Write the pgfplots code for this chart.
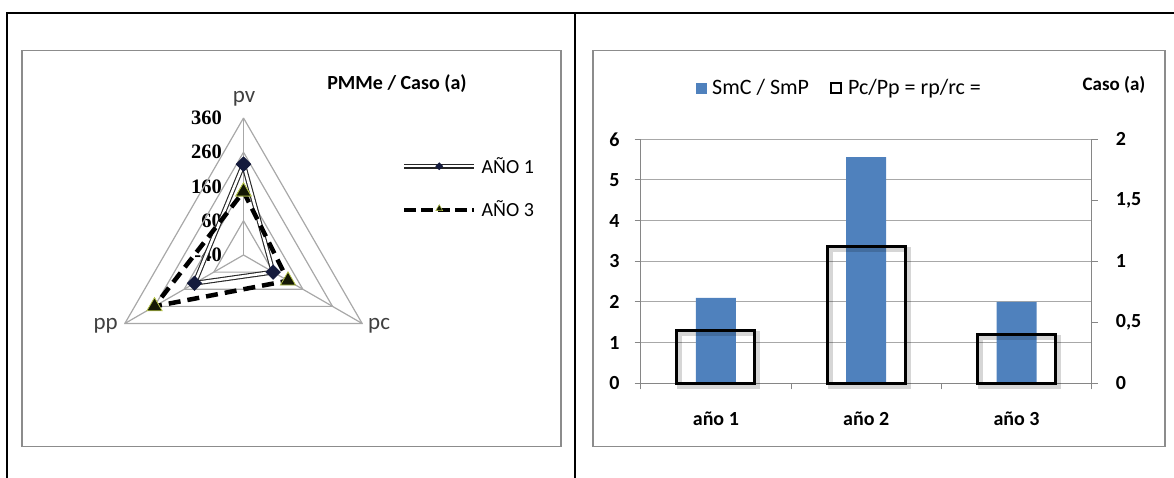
\documentclass[border=0pt]{standalone}
\usepackage{fontspec}
\setmainfont{Carlito}
\newfontfamily\serifnum{Liberation Serif}
\usepackage{pgfplots}
\pgfplotsset{compat=1.18}
\usepackage{pgfplotstable}

\definecolor{gridc}{HTML}{A8A8A8}
\definecolor{axc}{HTML}{868686}
\definecolor{boxc}{HTML}{8C8C8C}
\definecolor{barblue}{HTML}{4F81BD}
\definecolor{navy}{HTML}{141A3C}
\definecolor{trifill}{HTML}{141805}
\definecolor{triedge}{HTML}{B5C34A}
\definecolor{labc}{HTML}{404040}

% radar data: angle, AÑO 1, AÑO 3 (order pv, pc, pp, pv)
\pgfplotstableread{
ang v1 v3
90 225 145
-30 60 110
210 125 260
90 225 145
}\radar

\pgfplotstableread{
x smc pc
0 2.10 0.43
1 5.56 1.12
2 2.00 0.40
}\bars

\begin{document}
\begin{tikzpicture}[x=1bp,y=1bp]
\path[use as bounding box] (0,0) rectangle (1174,478);
% table frame
\draw[line width=2.5bp] (7,0) -- (7,465) -- (1174,465);
\draw[line width=2.5bp] (575,0) -- (575,465);
% chart boxes
\draw[boxc, line width=1.5bp] (22,31.5) rectangle (561,427.5);
\draw[boxc, line width=1.5bp] (593,31.5) rectangle (1165,427.5);

% ---------- radar chart labels ----------
\node[font=\bfseries\fontsize{20bp}{24bp}\selectfont] at (397,394) {PMMe / Caso (a)};
\node[labc, anchor=base, inner sep=0pt, font=\fontsize{23bp}{26bp}\selectfont] at (244,375) {pv};
\node[labc, anchor=base east, inner sep=0pt, font=\fontsize{23bp}{26bp}\selectfont] at (118,148) {pp};
\node[labc, anchor=base west, inner sep=0pt, font=\fontsize{23bp}{26bp}\selectfont] at (368,148) {pc};
\begin{scope}[every node/.style={anchor=east, inner sep=0pt, font=\serifnum\bfseries\fontsize{20.5bp}{24bp}\selectfont}]
\node at (222,360) {360};
\node at (222,325.75) {260};
\node at (222,291.5) {160};
\node at (222,257.25) {60};
\node at (222,223) {-40};
\end{scope}

\begin{axis}[at={(243.5bp,223bp)}, anchor=center,
  x=0.3425bp, y=0.3425bp,
  xmin=-420, xmax=420, ymin=-420, ymax=420,
  hide axis, clip=false,
  legend style={at={(axis description cs:1.05,0.733)}, anchor=west,
    draw=none, fill=none, inner sep=0pt, row sep=24bp,
    font=\fontsize{20bp}{24bp}\selectfont,
    nodes={inner sep=1bp},
    /tikz/every odd column/.append style={column sep=4bp}},
  legend cell align=left]
% grid
\pgfplotsinvokeforeach{60,160,260,360}{
  \addplot[gridc, line width=1.2bp, forget plot]
    table[x expr={(#1+40)*cos(\thisrow{ang})}, y expr={(#1+40)*sin(\thisrow{ang})}] {\radar};
}
\addplot[gridc, line width=1.2bp, forget plot] coordinates {(0,0) (0,400)};
\addplot[gridc, line width=1.2bp, forget plot] coordinates {(0,0) (346.41,-200)};
\addplot[gridc, line width=1.2bp, forget plot] coordinates {(0,0) (-346.41,-200)};
% AÑO 1
\addplot[black!85, line width=1.1bp, double=white, double distance=2.6bp, line join=round, forget plot]
  table[x expr={(\thisrow{v1}+40)*cos(\thisrow{ang})}, y expr={(\thisrow{v1}+40)*sin(\thisrow{ang})}] {\radar};
\addplot[only marks, mark=square*, mark size=5.2bp, mark options={rotate=45, draw=navy, fill=navy}, forget plot]
  table[x expr={(\thisrow{v1}+40)*cos(\thisrow{ang})}, y expr={(\thisrow{v1}+40)*sin(\thisrow{ang})}] {\radar};
% AÑO 3
\addplot[black, line width=4.5bp, dash pattern=on 12bp off 7bp, forget plot]
  table[x expr={(\thisrow{v3}+40)*cos(\thisrow{ang})}, y expr={(\thisrow{v3}+40)*sin(\thisrow{ang})}] {\radar};
\addplot[only marks, mark=triangle*, mark size=8.8bp, mark options={solid, draw=triedge, line width=0.8bp, fill=trifill}, forget plot]
  table[x expr={(\thisrow{v3}+40)*cos(\thisrow{ang})}, y expr={(\thisrow{v3}+40)*sin(\thisrow{ang})}] {\radar};
% legend
\addlegendimage{legend image code/.code={
  \draw[black!85, line width=1.1bp, double=white, double distance=2.4bp] (0bp,0bp) -- (70bp,0bp);
  \draw[draw=navy, fill=navy] plot[only marks, mark=square*, mark size=2.6bp, mark options={rotate=45}] coordinates {(35bp,0bp)};
}}
\addlegendentry{AÑO 1}
\addlegendimage{legend image code/.code={
  \draw[black, line width=4bp, dash pattern=on 12bp off 5bp] (0bp,0bp) -- (70bp,0bp);
  \draw[draw=triedge, fill=trifill, line width=0.5bp] plot[only marks, mark=triangle*, mark size=4bp] coordinates {(35bp,1bp)};
}}
\addlegendentry{AÑO 3}
\end{axis}

% ---------- bar chart ----------
\node[font=\bfseries\fontsize{19bp}{22bp}\selectfont] at (1114,393) {Caso (a)};

\begin{axis}[at={(640.7bp,94.7bp)}, anchor=south west, scale only axis,
  width=451bp, height=244bp,
  xmin=-0.5, xmax=2.5, ymin=0, ymax=6,
  ytick={0,1,2,3,4,5,6}, yticklabels={0,1,2,3,4,5,6},
  xtick={0,1,2}, xticklabels={año 1,año 2,año 3},
  minor xtick={-0.5,0.5,1.5,2.5},
  axis x line*=bottom, axis y line*=left,
  axis line style={axc, line width=1bp},
  tick style={axc, line width=1bp},
  major x tick style={draw=none},
  major tick length=6bp, minor tick length=6bp, tick align=outside,
  ymajorgrids, grid style={gridc, line width=1bp},
  ybar, bar width=40bp,
  yticklabel style={anchor=east, inner sep=0pt, xshift=-15bp, font=\bfseries\fontsize{20bp}{24bp}\selectfont},
  xticklabel style={anchor=base, font=\bfseries\fontsize{20bp}{24bp}\selectfont, yshift=-36bp},
  clip=false]
\addplot[fill=barblue, draw=none, bar shift=0pt] table[x=x, y=smc] {\bars};
\end{axis}

\begin{axis}[at={(640.7bp,94.7bp)}, anchor=south west, scale only axis,
  width=451bp, height=244bp,
  xmin=-0.5, xmax=2.5, ymin=0, ymax=2,
  ytick={0,0.5,1,1.5,2}, yticklabels={0,{0,5},1,{1,5},2},
  axis x line=none, axis y line*=right,
  axis line style={axc, line width=1bp},
  tick style={axc, line width=1bp},
  major tick length=6bp, tick align=outside,
  ybar, bar width=78bp,
  yticklabel style={anchor=west, inner sep=0pt, xshift=18bp, font=\bfseries\fontsize{20bp}{24bp}\selectfont},
  legend columns=2,
  legend style={at={(axis description cs:0.1226,1.2102)}, anchor=west,
    draw=none, fill=none, inner sep=0pt,
    font=\fontsize{22bp}{26bp}\selectfont,
    nodes={inner sep=1bp},
    /tikz/every odd column/.append style={column sep=5bp},
    /tikz/every even column/.append style={column sep=20bp}},
  clip=false]
\addplot[draw=black, draw opacity=0.16, line width=5bp, fill=none, bar shift=0pt,
  transform canvas={xshift=3bp, yshift=-3bp}, forget plot] table[x=x, y=pc] {\bars};
\addlegendimage{legend image code/.code={\fill[barblue] (0bp,-4.8bp) rectangle (9.6bp,4.8bp);}}
\addlegendentry{SmC / SmP}
\addplot[draw=black, line width=3bp, fill=none, bar shift=0pt,
  legend image code/.code={\draw[black, line width=2bp, fill=white] (1bp,-5bp) rectangle (11bp,5bp);}]
  table[x=x, y=pc] {\bars};
\addlegendentry{Pc/Pp = rp/rc =}
\end{axis}
\end{tikzpicture}
\end{document}
